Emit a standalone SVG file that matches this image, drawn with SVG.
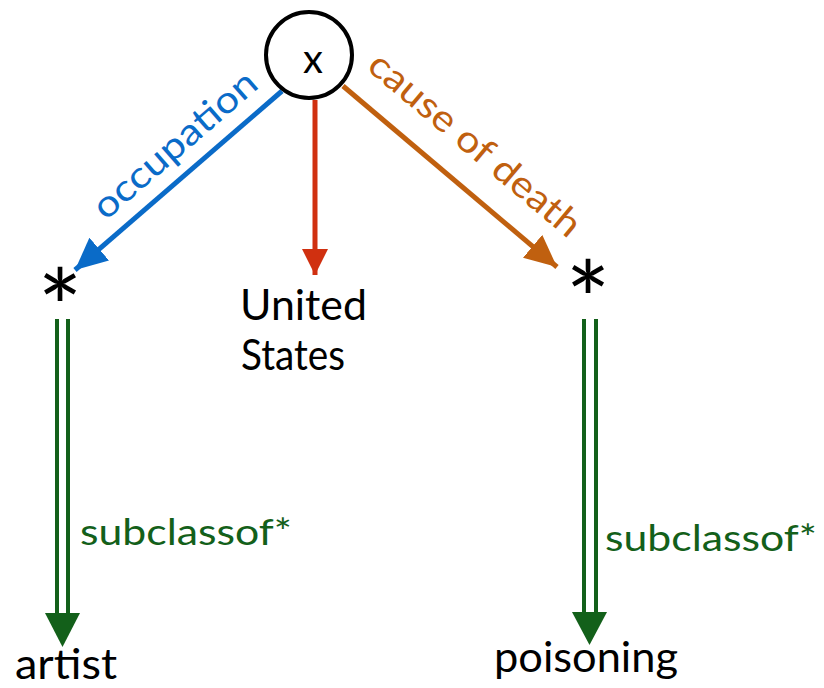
<svg xmlns="http://www.w3.org/2000/svg" width="824" height="688" viewBox="0 0 824 688">
<style>
text{font-family:"Lato","Open Sans","Liberation Sans",sans-serif;}
.lbl{font-size:43px;fill:#000;}
.star{font-size:106px;fill:#000;}
.green{font-size:37px;fill:#13601a;}
</style>
<defs>
<marker id="ab" markerUnits="userSpaceOnUse" markerWidth="34" markerHeight="30" refX="32" refY="15" orient="auto"><path d="M0,0 L32,15 L0,30 Z" fill="#0a6bc8"/></marker>
<marker id="ar" markerUnits="userSpaceOnUse" markerWidth="28" markerHeight="26" refX="26" refY="13" orient="auto"><path d="M0,0 L26,13 L0,26 Z" fill="#d03010"/></marker>
<marker id="ao" markerUnits="userSpaceOnUse" markerWidth="34" markerHeight="30" refX="32" refY="15" orient="auto"><path d="M0,0 L32,15 L0,30 Z" fill="#c0600f"/></marker>
</defs>
<rect width="824" height="688" fill="#fff"/>
<g id="connectors">
<line x1="282" y1="91" x2="75" y2="270" stroke="#0a6bc8" stroke-width="5" marker-end="url(#ab)"/>
<line x1="315" y1="100" x2="315" y2="275" stroke="#d03010" stroke-width="5" marker-end="url(#ar)"/>
<line x1="343" y1="86" x2="557" y2="267" stroke="#c0600f" stroke-width="5" marker-end="url(#ao)"/>
<text transform="translate(183,154) rotate(-41)" text-anchor="middle" font-size="37" fill="#0a6bc8" textLength="205" lengthAdjust="spacingAndGlyphs">occupation</text>
<text transform="translate(467,154) rotate(40)" text-anchor="middle" font-size="37" fill="#c0600f" textLength="265" lengthAdjust="spacingAndGlyphs">cause of death</text>
<g id="sub-left">
<line x1="57" y1="319" x2="57" y2="615" stroke="#13601a" stroke-width="4"/>
<line x1="68" y1="319" x2="68" y2="615" stroke="#13601a" stroke-width="4"/>
<path d="M45,613 L80,613 L62.5,647 Z" fill="#13601a"/>
<text class="green" x="80" y="545" textLength="212" lengthAdjust="spacingAndGlyphs">subclassof*</text>
</g>
<g id="sub-right">
<line x1="584" y1="319" x2="584" y2="614" stroke="#13601a" stroke-width="4"/>
<line x1="596" y1="319" x2="596" y2="614" stroke="#13601a" stroke-width="4"/>
<path d="M572,612 L607,612 L589.5,645 Z" fill="#13601a"/>
<text class="green" x="605" y="551" textLength="212" lengthAdjust="spacingAndGlyphs">subclassof*</text>
</g>
</g>
<g id="node-x">
<circle cx="309" cy="55" r="43" fill="#fff" stroke="#000" stroke-width="4"/>
<text x="313" y="73" text-anchor="middle" font-size="40">x</text>
</g>
<g id="node-star-left"><text class="star" x="60" y="347" text-anchor="middle">*</text></g>
<g id="node-star-right"><text class="star" x="588" y="339" text-anchor="middle">*</text></g>
<g id="node-us">
<text class="lbl" x="240" y="320" font-size="44" textLength="127" lengthAdjust="spacingAndGlyphs">United</text>
<text class="lbl" x="241" y="370" font-size="44" textLength="104" lengthAdjust="spacingAndGlyphs">States</text>
</g>
<g id="node-artist"><text class="lbl" x="15" y="679" font-size="42" textLength="102" lengthAdjust="spacingAndGlyphs">artist</text></g>
<g id="node-poisoning"><text class="lbl" x="494" y="672" textLength="184" lengthAdjust="spacingAndGlyphs">poisoning</text></g>
</svg>
